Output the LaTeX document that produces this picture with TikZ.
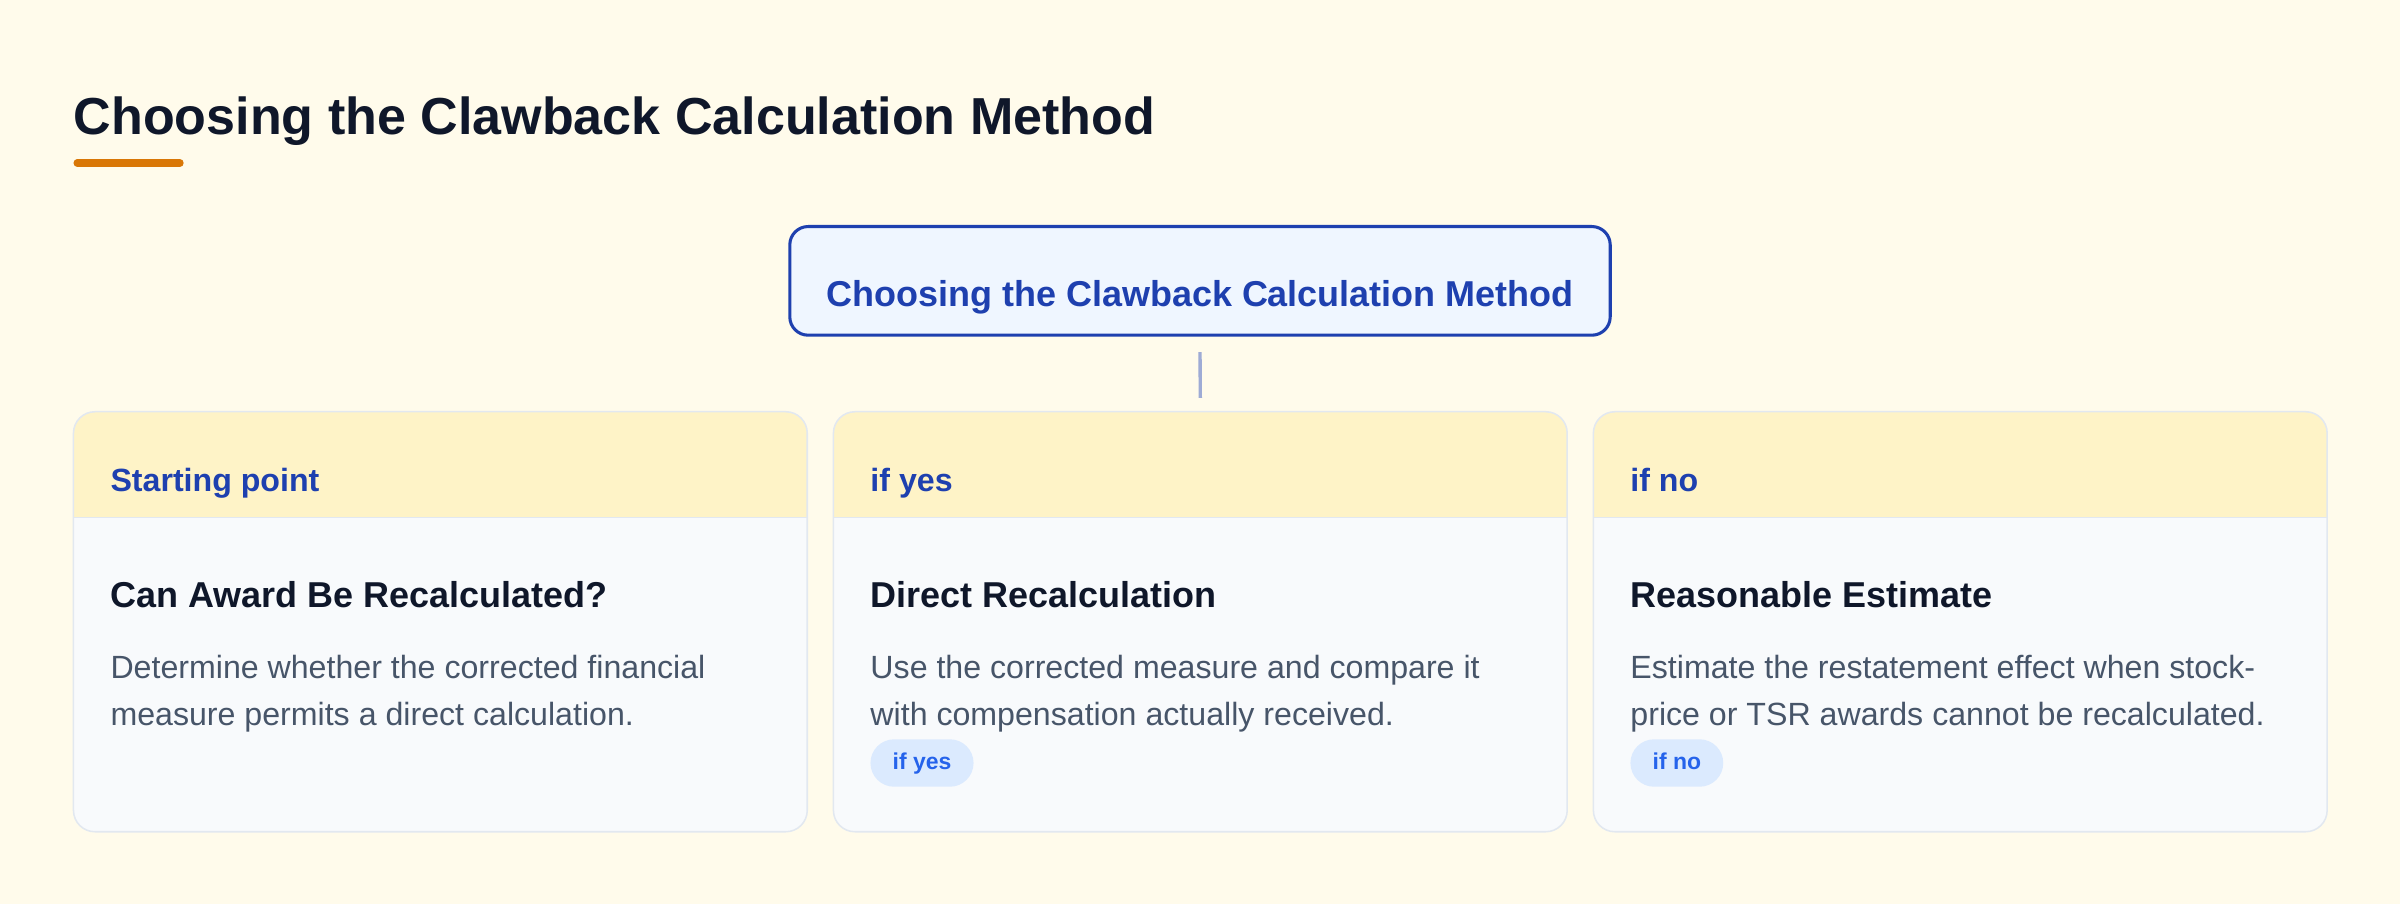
\documentclass[tikz,border=0pt]{standalone}
\usepackage{fontspec}
\setmainfont{Liberation Sans}
\usetikzlibrary{calc}
\definecolor{bg}{HTML}{FFFBEB}
\definecolor{amberhead}{HTML}{FEF3C7}
\definecolor{amberline}{HTML}{D97706}
\definecolor{slatebody}{HTML}{F8FAFC}
\definecolor{slateborder}{HTML}{E2E8F0}
\definecolor{darktext}{HTML}{0F172A}
\definecolor{bodytext}{HTML}{475569}
\definecolor{bluedark}{HTML}{1E40AF}
\definecolor{bluepale}{HTML}{EFF6FF}
\definecolor{tagfill}{HTML}{DBEAFE}
\definecolor{tagtext}{HTML}{2563EB}
\definecolor{connector}{HTML}{9EABD5}
\tikzset{
  txt/.style={anchor=base west, inner sep=0pt},
  headtxt/.style={txt, text=bluedark, font=\fontsize{21}{25}\selectfont\bfseries},
  cardtitle/.style={txt, text=darktext, font=\fontsize{23.5}{28}\selectfont\bfseries},
  bodytxt/.style={txt, text=bodytext, font=\fontsize{21}{31}\selectfont},
  tagbox/.style={anchor=west, fill=tagfill, text=tagtext, rounded corners=15.5pt,
    inner xsep=14.5pt, inner ysep=0pt, minimum height=31pt,
    text height=11pt, text depth=3pt,
    font=\fontsize{15}{18}\selectfont\bfseries},
  cardbg/.style={anchor=north west, fill=slatebody, inner sep=0pt,
    minimum width=479pt, minimum height=274pt, rounded corners=14pt},
}
\newcommand{\mycard}[6]{%
  \node[cardbg] (#1) at (#2,269) {};
  \begin{scope}
    \clip[rounded corners=14pt] (#1.north west) rectangle (#1.south east);
    \fill[amberhead] (#1.north west) rectangle ($(#1.north east)+(0,69)$);
  \end{scope}
  \draw[slateborder, line width=1pt] ($(#1.north west)+(0,69)$) -- ($(#1.north east)+(0,69)$);
  \draw[slateborder, line width=1pt, rounded corners=14pt] (#1.north west) rectangle (#1.south east);
  \node[headtxt] (#1h) at (#2+24,321) {#3};
  \node[cardtitle] (#1t) at (#2+24,397) {#4};
  \node[bodytxt] (#1a) at (#2+24,443) {#5};
  \node[bodytxt] (#1b) at (#2+24,474) {#6};
}
\begin{document}
\begin{tikzpicture}[x=1pt,y=-1pt]
\fill[bg] (0,0) rectangle (1568,590.6);
\useasboundingbox (0,0) rectangle (1568,590.6);

% page title
\node[txt, text=darktext, font=\fontsize{34}{40}\selectfont\bfseries] (title) at (48,88)
  {Choosing the Clawback Calculation Method};
\draw[amberline, line width=5pt, line cap=round] (50.5,106.5) -- (117.5,106.5);

% top node
\node[draw=bluedark, line width=2pt, fill=bluepale, rounded corners=12pt,
  minimum width=536pt, minimum height=71pt, inner sep=0pt] (top) at (784,183.5) {};
\node[anchor=base, inner sep=0pt, text=bluedark, font=\fontsize{23.5}{28}\selectfont\bfseries]
  (toptext) at (784,200) {Choosing the Clawback Calculation Method};

% cards
\mycard{c1}{48}{Starting point}{Can Award Be Recalculated?}
  {Determine whether the corrected financial}{measure permits a direct calculation.}
\mycard{c2}{544.5}{if yes}{Direct Recalculation}
  {Use the corrected measure and compare it}{with compensation actually received.}
\mycard{c3}{1041}{if no}{Reasonable Estimate}
  {Estimate the restatement effect when stock-}{price or TSR awards cannot be recalculated.}

\node[tagbox] (tag2) at (568.5,498.5) {if yes};
\node[tagbox] (tag3) at (1065,498.5) {if no};

% connector
\coordinate (k1) at ($(top.south)+(0,10)$);
\coordinate (k2) at ($(c2.north)+(0,-9)$);
\draw[connector, line width=2.2pt] (k1) -- (k2);
\end{tikzpicture}
\end{document}
